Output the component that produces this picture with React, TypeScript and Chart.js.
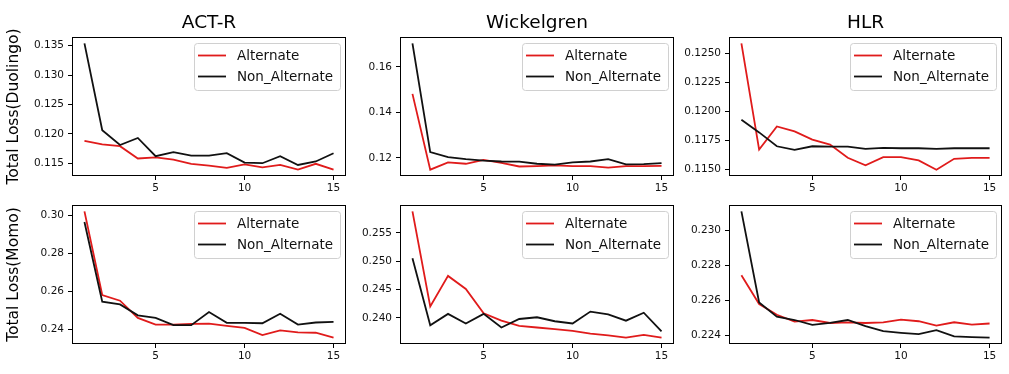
import React, { useEffect, useRef } from "react";
import { Chart, registerables } from "chart.js";

Chart.register(...registerables);

// ---------- data ----------
const epochs = [1, 2, 3, 4, 5, 6, 7, 8, 9, 10, 11, 12, 13, 14, 15];
const xTicks = [5, 10, 15];

const modelTitles = ["ACT-R", "Wickelgren", "HLR"];
const rowTitles = ["Total Loss(Duolingo)", "Total Loss(Momo)"];
const seriesNames = ["Alternate", "Non_Alternate"];

const actrDuoAlt = [0.1188, 0.1182, 0.1179, 0.1158, 0.116, 0.1156, 0.1149, 0.1146, 0.1142, 0.1148, 0.1143, 0.1147, 0.1139, 0.1149, 0.1139];
const actrDuoNon = [0.1354, 0.1206, 0.1181, 0.1193, 0.1162, 0.1169, 0.1163, 0.1163, 0.1167, 0.1151, 0.115, 0.1162, 0.1147, 0.1153, 0.1167];
const wickDuoAlt = [0.1481, 0.1148, 0.118, 0.1174, 0.1191, 0.1178, 0.1162, 0.1164, 0.1167, 0.1164, 0.1164, 0.1157, 0.1164, 0.1164, 0.1165];
const wickDuoNon = [0.1703, 0.1225, 0.1203, 0.1194, 0.1188, 0.1184, 0.1183, 0.1174, 0.117, 0.118, 0.1184, 0.1194, 0.1171, 0.1172, 0.1177];
const hlrDuoAlt = [0.12585, 0.11673, 0.11871, 0.11829, 0.11758, 0.11715, 0.11602, 0.11537, 0.11608, 0.11608, 0.11579, 0.115, 0.11593, 0.11602, 0.11602];
const hlrDuoNon = [0.11928, 0.1182, 0.11701, 0.1167, 0.11701, 0.11698, 0.11698, 0.11678, 0.11687, 0.11684, 0.11684, 0.11678, 0.11684, 0.11684, 0.11684];
const actrMomoAlt = [0.3021, 0.258, 0.255, 0.2459, 0.2424, 0.2424, 0.2428, 0.2429, 0.2417, 0.2407, 0.2369, 0.2393, 0.2383, 0.2381, 0.2355];
const actrMomoNon = [0.2965, 0.2545, 0.253, 0.2473, 0.2459, 0.2421, 0.2421, 0.249, 0.2433, 0.2433, 0.2431, 0.2481, 0.2424, 0.2435, 0.2438];
const wickMomoAlt = [0.2588, 0.242, 0.2474, 0.2451, 0.2408, 0.2395, 0.2386, 0.2383, 0.238, 0.2377, 0.2372, 0.2369, 0.2365, 0.237, 0.2365];
const wickMomoNon = [0.2505, 0.2387, 0.2407, 0.239, 0.2407, 0.2383, 0.2398, 0.2401, 0.2394, 0.239, 0.2411, 0.2406, 0.2395, 0.2409, 0.2376];
const hlrMomoAlt = [0.22746, 0.22581, 0.2252, 0.22481, 0.2249, 0.22473, 0.22477, 0.22473, 0.22477, 0.22492, 0.22483, 0.22458, 0.22477, 0.22464, 0.2247];
const hlrMomoNon = [0.23111, 0.2259, 0.22509, 0.2249, 0.22462, 0.22473, 0.2249, 0.22455, 0.22426, 0.22417, 0.22409, 0.22432, 0.22396, 0.22392, 0.22389];

const ticksActrDuo = [0.115, 0.12, 0.125, 0.13, 0.135];
const ticksWickDuo = [0.12, 0.14, 0.16];
const ticksHlrDuo = [0.115, 0.1175, 0.12, 0.1225, 0.125];
const ticksActrMomo = [0.24, 0.26, 0.28, 0.3];
const ticksWickMomo = [0.24, 0.245, 0.25, 0.255];
const ticksHlrMomo = [0.224, 0.226, 0.228, 0.23];

// ---------- styling / layout ----------
const RED = "#e01b1b";
const BLACK = "#111111";
const FONT = "'DejaVu Sans', 'Liberation Sans', sans-serif";
const colX = [72, 400, 729];
const colW = [274, 274, 273];
const rowY = [37, 205];
const rowH = [139, 139];

type PanelProps = {
  alt: number[];
  non: number[];
  yTicks: number[];
  decimals: number;
  title?: string;
  yTitle?: string;
  x: number;
  y: number;
  w: number;
  h: number;
  padL: number;
  padT: number;
};

function Panel(p: PanelProps) {
  const ref = useRef<HTMLCanvasElement | null>(null);
  const padR = 6;
  const padB = 30;
  const cw = p.padL + p.w + padR;
  const ch = p.padT + p.h + padB;

  useEffect(() => {
    if (!ref.current) return;
    const all = [...p.alt, ...p.non];
    const mn = Math.min(...all);
    const mx = Math.max(...all);
    const span = mx - mn;

    const decor = {
      id: "decor",
      afterDraw(chart: any) {
        const ctx = chart.ctx as CanvasRenderingContext2D;
        const ca = chart.chartArea;
        ctx.save();
        // frame
        ctx.strokeStyle = "#000";
        ctx.lineWidth = 1;
        ctx.strokeRect(Math.round(ca.left) + 0.5, Math.round(ca.top) + 0.5, Math.round(ca.right - ca.left) - 1, Math.round(ca.bottom - ca.top) - 1);
        // title
        if (p.title) {
          ctx.font = `18.5px ${FONT}`;
          ctx.fillStyle = "#000";
          ctx.textAlign = "center";
          ctx.textBaseline = "alphabetic";
          ctx.fillText(p.title, (ca.left + ca.right) / 2, ca.top - 9);
        }
        // legend
        ctx.font = `13.5px ${FONT}`;
        const tw = Math.max(...seriesNames.map((n) => ctx.measureText(n).width));
        const bw = 4 + 28 + 11 + tw + 7;
        const bh = 47;
        const bx = ca.right - 6 - bw;
        const by = ca.top + 5.5;
        ctx.beginPath();
        (ctx as any).roundRect(Math.round(bx) + 0.5, Math.round(by) + 0.5, Math.round(bw), bh, 3);
        ctx.fillStyle = "rgba(255,255,255,0.85)";
        ctx.fill();
        ctx.strokeStyle = "#d0d0d0";
        ctx.lineWidth = 1;
        ctx.stroke();
        const colors = [RED, BLACK];
        seriesNames.forEach((n, i) => {
          const yy = by + 13 + i * 21;
          ctx.beginPath();
          ctx.strokeStyle = colors[i];
          ctx.lineWidth = 1.8;
          ctx.moveTo(bx + 4, yy);
          ctx.lineTo(bx + 32, yy);
          ctx.stroke();
          ctx.fillStyle = "#111";
          ctx.textAlign = "left";
          ctx.textBaseline = "middle";
          ctx.fillText(n, bx + 43, yy + 0.5);
        });
        ctx.restore();
      },
    };

    const tickFont = { family: FONT, size: 10.5 };
    const chart = new Chart(ref.current, {
      type: "line",
      data: {
        datasets: [
          {
            label: seriesNames[0],
            data: epochs.map((e, i) => ({ x: e, y: p.alt[i] })),
            borderColor: RED,
            backgroundColor: RED,
            borderWidth: 1.8,
            pointRadius: 0,
            tension: 0,
            order: 2,
          },
          {
            label: seriesNames[1],
            data: epochs.map((e, i) => ({ x: e, y: p.non[i] })),
            borderColor: BLACK,
            backgroundColor: BLACK,
            borderWidth: 1.8,
            pointRadius: 0,
            tension: 0,
            order: 1,
          },
        ],
      },
      options: {
        animation: false,
        responsive: false,
        maintainAspectRatio: false,
        events: [],
        layout: { padding: { left: 0, top: p.padT, right: padR, bottom: 0 } },
        plugins: { legend: { display: false }, tooltip: { enabled: false } },
        scales: {
          x: {
            type: "linear",
            min: 0.3,
            max: 15.7,
            afterFit: (s: any) => {
              s.height = padB;
            },
            afterBuildTicks: (s: any) => {
              s.ticks = xTicks.map((v) => ({ value: v }));
            },
            grid: { display: true, drawOnChartArea: false, drawTicks: true, tickLength: 4, color: "#000", lineWidth: 1 },
            border: { display: false },
            ticks: { font: tickFont, color: "#111", padding: 2, maxRotation: 0, autoSkip: false },
          },
          y: {
            type: "linear",
            min: mn - 0.05 * span,
            max: mx + 0.05 * span,
            afterFit: (s: any) => {
              s.width = p.padL;
            },
            afterBuildTicks: (s: any) => {
              s.ticks = p.yTicks.map((v) => ({ value: v }));
            },
            grid: { display: true, drawOnChartArea: false, drawTicks: true, tickLength: 4, color: "#000", lineWidth: 1 },
            border: { display: false },
            ticks: {
              font: tickFont,
              color: "#111",
              padding: 4,
              autoSkip: false,
              callback: (v: any) => Number(v).toFixed(p.decimals),
            },
            title: p.yTitle
              ? { display: true, text: p.yTitle, color: "#000", font: { family: FONT, size: 15.5 }, padding: { top: 4.5, bottom: 0 } }
              : { display: false },
          },
        },
      },
      plugins: [decor],
    } as any);
    return () => chart.destroy();
  }, []);

  return (
    <canvas
      ref={ref}
      width={cw}
      height={ch}
      style={{ position: "absolute", left: p.x - p.padL, top: p.y - p.padT, width: cw, height: ch }}
    />
  );
}

export default function App() {
  const panels: PanelProps[] = [
    { alt: actrDuoAlt, non: actrDuoNon, yTicks: ticksActrDuo, decimals: 3, title: modelTitles[0], yTitle: rowTitles[0], x: colX[0], y: rowY[0], w: colW[0], h: rowH[0], padL: 72, padT: 37 },
    { alt: wickDuoAlt, non: wickDuoNon, yTicks: ticksWickDuo, decimals: 2, title: modelTitles[1], x: colX[1], y: rowY[0], w: colW[1], h: rowH[0], padL: 52, padT: 37 },
    { alt: hlrDuoAlt, non: hlrDuoNon, yTicks: ticksHlrDuo, decimals: 4, title: modelTitles[2], x: colX[2], y: rowY[0], w: colW[2], h: rowH[0], padL: 60, padT: 37 },
    { alt: actrMomoAlt, non: actrMomoNon, yTicks: ticksActrMomo, decimals: 2, yTitle: rowTitles[1], x: colX[0], y: rowY[1], w: colW[0], h: rowH[1], padL: 72, padT: 12 },
    { alt: wickMomoAlt, non: wickMomoNon, yTicks: ticksWickMomo, decimals: 3, x: colX[1], y: rowY[1], w: colW[1], h: rowH[1], padL: 52, padT: 12 },
    { alt: hlrMomoAlt, non: hlrMomoNon, yTicks: ticksHlrMomo, decimals: 3, x: colX[2], y: rowY[1], w: colW[2], h: rowH[1], padL: 60, padT: 12 },
  ];
  return (
    <div style={{ position: "fixed", left: 0, top: 0, width: 1009, height: 374, background: "#fff", overflow: "hidden" }}>
      {panels.map((pp, i) => (
        <Panel key={i} {...pp} />
      ))}
    </div>
  );
}
